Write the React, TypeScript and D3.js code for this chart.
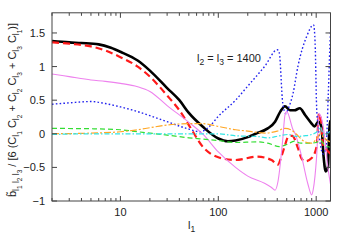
import React, { useEffect, useRef } from 'react';
import * as d3 from 'd3';

// each series: [l1, value]
const blackCurve: [number, number][] = [
  [2, 1.38], [3, 1.36], [4, 1.35], [6, 1.33], [8, 1.28], [10, 1.22], [15, 1.09], [20, 0.94],
  [30, 0.68], [40, 0.5], [50, 0.31], [70, 0.1], [100, -0.07], [125, -0.11], [150, -0.1],
  [200, -0.05], [240, 0.0], [320, 0.08], [380, 0.18], [430, 0.33], [480, 0.41], [540, 0.35],
  [600, 0.35], [680, 0.38], [770, 0.28], [890, 0.16], [960, 0.11], [1050, 0.18], [1130, 0.11],
  [1190, -0.34], [1250, -0.56], [1320, -0.49], [1360, 0.06], [1400, 0.2]
];
const redCurve: [number, number][] = [
  [2, 1.36], [3, 1.34], [5, 1.3], [7, 1.24], [10, 1.14], [15, 1.0], [20, 0.85], [30, 0.57],
  [40, 0.35], [50, 0.13], [70, -0.2], [100, -0.35], [150, -0.39], [250, -0.34], [350, -0.39],
  [405, -0.46], [445, -0.32], [480, -0.17], [520, -0.04], [570, -0.03], [650, -0.21], [710, -0.37],
  [770, -0.41], [900, -0.36], [1010, -0.19], [1070, 0.3], [1120, 0.2], [1180, -0.19], [1280, -0.24],
  [1400, -0.3]
];
const violetCurve: [number, number][] = [
  [2, 0.89], [3, 0.85], [5, 0.8], [7, 0.78], [10, 0.75], [15, 0.7], [20, 0.63], [30, 0.42],
  [50, 0.17], [70, -0.01], [100, -0.27], [150, -0.5], [200, -0.63], [300, -0.74], [350, -0.8],
  [380, -0.84], [407, -0.71], [455, -0.09], [480, 0.28], [500, 0.33], [580, 0.06], [610, 0.0],
  [710, -0.34], [820, -0.74], [900, -0.91], [930, -0.84], [1010, -0.34], [1070, 0.3], [1120, 0.25],
  [1210, 0.0], [1300, -0.44], [1400, -0.75]
];
const blueCurve: [number, number][] = [
  [2, 0.44], [3, 0.46], [5, 0.48], [7, 0.45], [10, 0.4], [15, 0.33], [20, 0.27], [30, 0.18],
  [50, 0.07], [65, 0.03], [80, 0.1], [100, 0.26], [150, 0.5], [200, 0.71], [300, 1.01], [400, 1.25],
  [420, 1.2], [455, 0.46], [490, 0.3], [520, 0.38], [580, 0.6], [650, 1.0], [800, 1.45], [940, 1.62],
  [975, 1.35], [1010, 0.4], [1050, 0.1], [1100, -0.15], [1180, -0.3], [1260, -0.2], [1330, 0.6],
  [1380, 1.3], [1400, 1.52]
];
const greenCurve: [number, number][] = [
  [2, 0.08], [5, 0.075], [10, 0.06], [15, 0.03], [20, 0.01], [30, -0.02], [50, -0.06], [70, -0.08],
  [100, -0.1], [150, -0.13], [250, -0.12], [320, -0.14], [420, -0.19], [500, -0.16], [600, -0.11],
  [700, -0.14], [850, -0.14], [1000, -0.13], [1100, -0.1], [1250, -0.18], [1400, -0.2]
];
const orangeCurve: [number, number][] = [
  [2, 0.0], [5, 0.01], [10, 0.03], [15, 0.06], [20, 0.09], [30, 0.13], [50, 0.15], [70, 0.15],
  [100, 0.11], [150, 0.06], [200, 0.04], [300, 0.01], [400, 0.04], [480, 0.08], [550, 0.06],
  [620, 0.0], [770, -0.12], [900, -0.14], [1000, -0.08], [1100, 0.0], [1200, -0.06], [1300, -0.1],
  [1400, -0.12]
];
const cyanCurve: [number, number][] = [
  [2, -0.01], [5, 0.0], [20, 0.0], [50, 0.0], [100, 0.0], [150, -0.03], [250, -0.04], [320, -0.06],
  [420, -0.03], [520, -0.01], [620, -0.04], [750, -0.03], [900, -0.01], [1050, 0.05], [1100, 0.1],
  [1200, -0.02], [1300, 0.0], [1400, 0.05]
];

const yTicks = [-1, -0.5, 0, 0.5, 1, 1.5];
const xTicks = [10, 100, 1000];
const annotation = '= 1400';

const width = 349;
const height = 245;
const plot = { left: 52, right: 330.5, top: 12.8, bottom: 201 };
const font = '"Liberation Sans", Arial, sans-serif';

const series = [
  { data: blackCurve, color: '#000000', w: 2.6, dash: null },
  { data: redCurve, color: '#ff1a1a', w: 2.2, dash: '7,4' },
  { data: blueCurve, color: '#2222ee', w: 1.4, dash: '1.6,2.2' },
  { data: violetCurve, color: '#ee82ee', w: 1.1, dash: null },
  { data: greenCurve, color: '#33dd33', w: 1.2, dash: '5,3' },
  { data: orangeCurve, color: '#ffa726', w: 1.2, dash: '7,2,2,2' },
  { data: cyanCurve, color: '#33e5e5', w: 1.2, dash: '5,2,1.5,2' }
];

// [text, level] level 0 normal, 1 subscript, 2 sub-subscript
const yLabelTokens: [string, number][] = [
  ['b\u0303', 0], ['l', 1], ['1', 2], [' l', 1], ['2', 2], [' l', 1], ['3', 2],
  [' / [6 (C', 0], ['l', 1], ['1', 2], [' C', 0], ['l', 1], ['2', 2],
  [' + C', 0], ['l', 1], ['2', 2], [' C', 0], ['l', 1], ['3', 2],
  [' + C', 0], ['l', 1], ['3', 2], [' C', 0], ['l', 1], ['1', 2], [')]', 0]
];
const offs = [0, 3, 5.5];
const sizes = [11, 8.5, 6.5];

function addRich(sel: any, tokens: [string, number][]) {
  let prev = 0;
  tokens.forEach(([t, lv]) => {
    sel.append('tspan')
      .attr('dy', offs[lv] - offs[prev])
      .attr('font-size', sizes[lv])
      .text(t);
    prev = lv;
  });
}

export default function App() {
  const ref = useRef<SVGSVGElement>(null);

  useEffect(() => {
    const svg = d3.select(ref.current);
    svg.selectAll('*').remove();

    const x = d3.scaleLog().domain([2, 1400]).range([plot.left, plot.right]);
    const y = d3.scaleLinear().domain([-1, 1.8]).range([plot.bottom, plot.top]);

    svg.append('defs').append('clipPath').attr('id', 'pc')
      .append('rect')
      .attr('x', plot.left).attr('y', plot.top)
      .attr('width', plot.right - plot.left).attr('height', plot.bottom - plot.top);

    const line = d3.line<[number, number]>()
      .x(d => x(d[0]))
      .y(d => y(d[1]))
      .curve(d3.curveMonotoneX);

    const g = svg.append('g').attr('clip-path', 'url(#pc)');
    series.forEach(s => {
      g.append('path')
        .attr('d', line(s.data))
        .attr('fill', 'none')
        .attr('stroke', s.color)
        .attr('stroke-width', s.w)
        .attr('stroke-dasharray', s.dash)
        .attr('stroke-linejoin', 'round');
    });

    // frame + ticks
    const ax = svg.append('g').attr('stroke', '#444').attr('stroke-width', 1);
    ax.append('rect')
      .attr('x', plot.left).attr('y', plot.top)
      .attr('width', plot.right - plot.left).attr('height', plot.bottom - plot.top)
      .attr('fill', 'none');

    const minor: number[] = [];
    [1, 10, 100, 1000].forEach(dec => {
      for (let k = 2; k <= 9; k++) {
        const v = dec * k;
        if (v >= 2 && v <= 1400 && !xTicks.includes(v)) minor.push(v);
      }
    });
    minor.forEach(v => {
      ax.append('line').attr('x1', x(v)).attr('x2', x(v)).attr('y1', plot.bottom).attr('y2', plot.bottom - 3);
      ax.append('line').attr('x1', x(v)).attr('x2', x(v)).attr('y1', plot.top).attr('y2', plot.top + 3);
    });
    xTicks.forEach(v => {
      ax.append('line').attr('x1', x(v)).attr('x2', x(v)).attr('y1', plot.bottom).attr('y2', plot.bottom - 5);
      ax.append('line').attr('x1', x(v)).attr('x2', x(v)).attr('y1', plot.top).attr('y2', plot.top + 5);
    });
    yTicks.forEach(v => {
      ax.append('line').attr('x1', plot.left).attr('x2', plot.left + 5).attr('y1', y(v)).attr('y2', y(v));
      ax.append('line').attr('x1', plot.right).attr('x2', plot.right - 5).attr('y1', y(v)).attr('y2', y(v));
    });

    const txt = svg.append('g').attr('font-family', font).attr('font-size', 11).attr('fill', '#222');
    yTicks.forEach(v => {
      txt.append('text')
        .attr('x', plot.left - 7).attr('y', y(v) + 4)
        .attr('text-anchor', 'end')
        .text(d3.format('')(v));
    });
    xTicks.forEach(v => {
      txt.append('text')
        .attr('x', x(v)).attr('y', plot.bottom + 15)
        .attr('text-anchor', 'middle')
        .text(String(v));
    });

    // x label
    const xl = txt.append('text').attr('x', 188).attr('y', 229);
    addRich(xl, [['l', 0], ['1', 1]]);

    // annotation
    const an = txt.append('text').attr('x', 197).attr('y', 62);
    addRich(an, [['l', 0], ['2', 1], [' = l', 0], ['3', 1], [' ' + annotation, 0]]);

    // y label
    const yl = txt.append('text')
      .attr('transform', `translate(16, ${110}) rotate(-90)`)
      .attr('text-anchor', 'middle');
    addRich(yl, yLabelTokens);
  }, []);

  return (
    <svg
      ref={ref}
      width={width}
      height={height}
      style={{ position: 'absolute', left: 0, top: 0, background: '#fff' }}
    />
  );
}
